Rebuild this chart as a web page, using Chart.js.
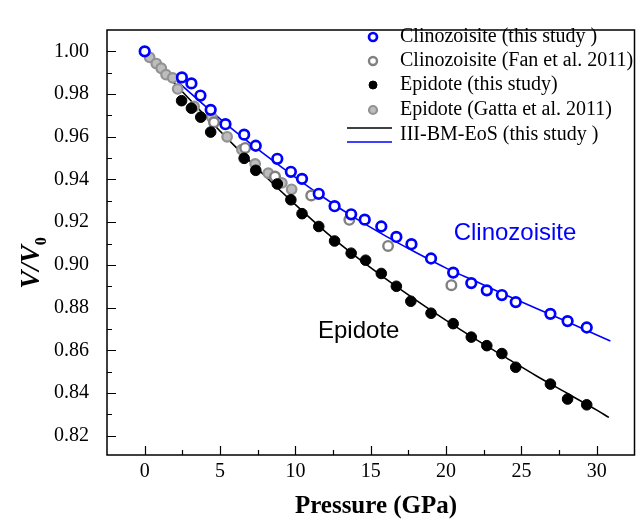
<!DOCTYPE html>
<html>
<head>
<meta charset="utf-8">
<script src="https://cdn.jsdelivr.net/npm/chart.js@4.4.1/dist/chart.umd.min.js"></script>
<style>
  html, body { margin: 0; padding: 0; background: #fff; }
  #wrap { width: 642px; height: 522px; }
</style>
</head>
<body>
<div id="wrap"><canvas id="chart"></canvas></div>
<script>
// tick values
const xTicks = [0, 5, 10, 15, 20, 25, 30];
const xMinor = [2.5, 7.5, 12.5, 17.5, 22.5, 27.5];
const yTicks = [0.82, 0.84, 0.86, 0.88, 0.90, 0.92, 0.94, 0.96, 0.98, 1.00];
const yMinor = [0.83, 0.85, 0.87, 0.89, 0.91, 0.93, 0.95, 0.97, 0.99];

// Clinozoisite (this study)
const czP = [0, 2.47, 3.1, 3.7, 4.38, 5.36, 6.6, 7.37, 8.8, 9.7, 10.44, 11.55, 12.6, 13.7, 14.6,
  15.7, 16.7, 17.7, 19.0, 20.47, 21.67, 22.7, 23.7, 24.62, 26.92, 28.06, 29.33];
const czV = [1.000, 0.9878, 0.985, 0.9793, 0.9726, 0.9659, 0.961, 0.9558, 0.9497, 0.9436, 0.9403, 0.9333, 0.9275, 0.9237, 0.9212,
  0.918, 0.9131, 0.9097, 0.903, 0.8964, 0.8915, 0.8881, 0.8859, 0.8826, 0.8771, 0.8737, 0.8707];

// Clinozoisite (Fan et al. 2011)
const fanP = [4.6, 6.67, 8.65, 11.05, 13.58, 16.15, 20.35];
const fanV = [0.9668, 0.9548, 0.9414, 0.9325, 0.9211, 0.9089, 0.8905];

// Epidote (this study)
const epP = [2.45, 3.1, 3.72, 4.38, 6.6, 7.37, 8.8, 9.7, 10.44, 11.55, 12.6, 13.7, 14.66, 15.7, 16.7,
  17.66, 19.0, 20.47, 21.67, 22.7, 23.7, 24.62, 26.92, 28.06, 29.33];
const epV = [0.9769, 0.9734, 0.9692, 0.9622, 0.9499, 0.9443, 0.9379, 0.9305, 0.924, 0.918, 0.9112, 0.9055, 0.9022, 0.896, 0.890,
  0.883, 0.8774, 0.8725, 0.8662, 0.8622, 0.8585, 0.8521, 0.8442, 0.8372, 0.8345];

// Epidote (Gatta et al. 2011)
const gattaP = [0.33, 0.77, 1.1, 1.42, 1.86, 2.19, 3.28, 4.44, 5.47, 6.45, 7.33, 8.2, 9.1, 9.75];
const gattaV = [0.9972, 0.9943, 0.9921, 0.9891, 0.9876, 0.9824, 0.9742, 0.9693, 0.960, 0.954, 0.9473, 0.943, 0.9384, 0.9354];

// III-BM-EoS curves
const fitEpP = [0, 2, 4, 6, 8, 10, 12, 14, 16, 18, 20, 22, 24, 26, 28, 30, 30.8];
const fitEpV = [1.000, 0.9848, 0.9700, 0.9555, 0.9415, 0.9282, 0.9155, 0.9040, 0.8935, 0.8835, 0.8740, 0.8650, 0.8565, 0.8480, 0.8400, 0.8320, 0.8286];
const fitCzP = [0, 2, 4, 6, 8, 10, 12, 14, 16, 18, 20, 22, 24, 26, 28, 30, 30.9];
const fitCzV = [1.000, 0.9870, 0.9745, 0.9625, 0.9515, 0.9410, 0.9310, 0.9218, 0.9135, 0.9058, 0.8985, 0.8922, 0.8858, 0.8796, 0.8735, 0.8672, 0.8644];

const toXY = (xs, ys) => xs.map((x, i) => ({x: x, y: ys[i]}));

const serif = "'Liberation Serif', 'Times New Roman', serif";
const sans = "'Liberation Sans', Arial, sans-serif";

const decor = {
  id: 'decor',
  afterDraw(chart) {
    const {ctx, chartArea: a, scales: {x, y}} = chart;
    ctx.save();

    // inward ticks
    ctx.strokeStyle = '#000';
    ctx.lineWidth = 1.2;
    ctx.beginPath();
    xTicks.forEach(v => {
      const px = Math.round(x.getPixelForValue(v)) + 0.5;
      ctx.moveTo(px, a.bottom); ctx.lineTo(px, a.bottom - 9);
    });
    xMinor.forEach(v => {
      const px = Math.round(x.getPixelForValue(v)) + 0.5;
      ctx.moveTo(px, a.bottom); ctx.lineTo(px, a.bottom - 5);
    });
    yTicks.forEach(v => {
      const py = Math.round(y.getPixelForValue(v)) + 0.5;
      ctx.moveTo(a.left, py); ctx.lineTo(a.left + 9, py);
    });
    yMinor.forEach(v => {
      const py = Math.round(y.getPixelForValue(v)) + 0.5;
      ctx.moveTo(a.left, py); ctx.lineTo(a.left + 5, py);
    });
    ctx.stroke();

    // frame
    ctx.lineWidth = 1.5;
    ctx.strokeRect(a.left, a.top, a.right - a.left, a.bottom - a.top);

    // legend
    const ds = chart.data.datasets;
    const rows = [37, 61, 85, 110];
    ctx.font = '20px ' + serif;
    ctx.textBaseline = 'middle';
    ctx.textAlign = 'left';
    for (let i = 0; i < 4; i++) {
      ctx.beginPath();
      ctx.arc(373, rows[i], 4, 0, Math.PI * 2);
      ctx.fillStyle = ds[i].backgroundColor;
      ctx.fill();
      ctx.lineWidth = ds[i].borderWidth;
      ctx.strokeStyle = ds[i].borderColor;
      ctx.stroke();
      ctx.fillStyle = '#000';
      ctx.fillText(ds[i].label, 400, rows[i]);
    }
    ctx.lineWidth = 1.6;
    ctx.strokeStyle = ds[4].borderColor;
    ctx.beginPath(); ctx.moveTo(347, 128); ctx.lineTo(392, 128); ctx.stroke();
    ctx.strokeStyle = ds[5].borderColor;
    ctx.beginPath(); ctx.moveTo(347, 142); ctx.lineTo(392, 142); ctx.stroke();
    ctx.fillStyle = '#000';
    ctx.fillText(ds[4].label, 400, 135);

    // curve labels
    ctx.font = '24px ' + sans;
    ctx.textBaseline = 'alphabetic';
    ctx.fillStyle = '#0000ff';
    ctx.fillText('Clinozoisite', x.getPixelForValue(20.5), y.getPixelForValue(0.9117));
    ctx.fillStyle = '#000';
    ctx.fillText('Epidote', x.getPixelForValue(11.5), y.getPixelForValue(0.8658));

    // axis titles
    ctx.font = 'bold 25px ' + serif;
    ctx.textAlign = 'center';
    ctx.textBaseline = 'middle';
    ctx.fillText('Pressure (GPa)', 376, 507);

    ctx.translate(39, 263);
    ctx.rotate(-Math.PI / 2);
    ctx.textAlign = 'left';
    ctx.textBaseline = 'alphabetic';
    const main = 'V/V';
    ctx.font = 'italic bold 27px ' + serif;
    const w1 = ctx.measureText(main).width;
    ctx.font = 'bold 16px ' + serif;
    const w2 = ctx.measureText('0').width;
    const start = -(w1 + w2) / 2;
    ctx.font = 'italic bold 27px ' + serif;
    ctx.fillText(main, start, 0);
    ctx.font = 'bold 16px ' + serif;
    ctx.fillText('0', start + w1, 7);

    ctx.restore();
  }
};

new Chart(document.getElementById('chart'), {
  type: 'scatter',
  data: {
    datasets: [
      {
        label: 'Clinozoisite (this study )',
        data: toXY(czP, czV),
        backgroundColor: '#ffffff',
        borderColor: '#0000ff',
        borderWidth: 2.7,
        pointRadius: 4.8,
        order: 0
      },
      {
        label: 'Clinozoisite (Fan et al. 2011)',
        data: toXY(fanP, fanV),
        backgroundColor: '#ffffff',
        borderColor: '#808080',
        borderWidth: 2.4,
        pointRadius: 4.8,
        order: 2
      },
      {
        label: 'Epidote (this study)',
        data: toXY(epP, epV),
        backgroundColor: '#000000',
        borderColor: '#000000',
        borderWidth: 1,
        pointRadius: 5.3,
        order: 1
      },
      {
        label: 'Epidote (Gatta et al. 2011)',
        data: toXY(gattaP, gattaV),
        backgroundColor: '#bdbdbd',
        borderColor: '#929292',
        borderWidth: 2.2,
        pointRadius: 4.8,
        order: 3
      },
      {
        label: 'III-BM-EoS (this study )',
        data: toXY(fitEpP, fitEpV),
        showLine: true,
        borderColor: '#000000',
        borderWidth: 1.6,
        pointRadius: 0,
        cubicInterpolationMode: 'monotone',
        order: 4
      },
      {
        label: 'III-BM-EoS (this study )',
        data: toXY(fitCzP, fitCzV),
        showLine: true,
        borderColor: '#0000ff',
        borderWidth: 1.6,
        pointRadius: 0,
        cubicInterpolationMode: 'monotone',
        order: 4
      }
    ]
  },
  options: {
    responsive: true,
    maintainAspectRatio: false,
    animation: false,
    devicePixelRatio: 1,
    layout: { padding: { top: 10, right: 2, left: 0, bottom: 0 } },
    plugins: {
      legend: { display: false },
      tooltip: { enabled: false }
    },
    scales: {
      x: {
        type: 'linear',
        min: -2.5,
        max: 32.5,
        afterFit: s => { s.height = 67; },
        afterBuildTicks: s => { s.ticks = xTicks.map(v => ({value: v})); },
        grid: { display: false, drawTicks: false },
        border: { display: false },
        ticks: {
          color: '#000',
          padding: 5,
          maxRotation: 0,
          font: { family: serif, size: 20 }
        }
      },
      y: {
        type: 'linear',
        min: 0.811,
        max: 1.010,
        afterFit: s => { s.width = 107; },
        afterBuildTicks: s => { s.ticks = yTicks.map(v => ({value: v})); },
        grid: { display: false, drawTicks: false },
        border: { display: false },
        ticks: {
          color: '#000',
          padding: 18,
          font: { family: serif, size: 20 },
          callback: v => v.toFixed(2)
        }
      }
    }
  },
  plugins: [decor]
});
</script>
</body>
</html>
